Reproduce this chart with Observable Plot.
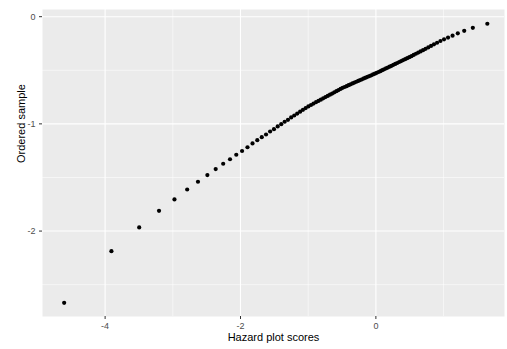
<!DOCTYPE html>
<html>
<head>
<meta charset="utf-8">
<script src="https://cdn.jsdelivr.net/npm/d3@7"></script>
<script src="https://cdn.jsdelivr.net/npm/@observablehq/plot@0.6"></script>
<style>
  html, body { margin: 0; padding: 0; background: #ffffff; }
  #chart svg { display: block; }
</style>
</head>
<body>
<div id="chart"></div>
<script>
// Hazard plot scores (x) and ordered sample (y)
const hazardScores = [-4.6052,-3.9070,-3.4964,-3.2036,-2.9755,-2.7878,-2.6284,-2.4895,-2.3665,-2.2557,
-2.1549,-2.0624,-1.9768,-1.8970,-1.8224,-1.7522,-1.6858,-1.6228,-1.5628,-1.5056,
-1.4508,-1.3982,-1.3476,-1.2988,-1.2517,-1.2062,-1.1620,-1.1191,-1.0775,-1.0370,
-0.9975,-0.9589,-0.9213,-0.8845,-0.8484,-0.8131,-0.7785,-0.7445,-0.7111,-0.6783,
-0.6460,-0.6142,-0.5828,-0.5519,-0.5214,-0.4912,-0.4614,-0.4319,-0.4027,-0.3738,
-0.3452,-0.3167,-0.2885,-0.2605,-0.2327,-0.2050,-0.1775,-0.1501,-0.1228,-0.0956,
-0.0685,-0.0414,-0.0143,0.0128,0.0398,0.0669,0.0940,0.1212,0.1485,0.1760,
0.2035,0.2313,0.2592,0.2874,0.3159,0.3446,0.3737,0.4032,0.4331,0.4635,
0.4945,0.5261,0.5584,0.5915,0.6255,0.6606,0.6968,0.7344,0.7736,0.8147,
0.8580,0.9041,0.9534,1.0070,1.0661,1.1327,1.2102,1.3049,1.4321,1.6463];

const orderedSample = [-2.669,-2.188,-1.966,-1.811,-1.705,-1.612,-1.540,-1.478,-1.422,-1.372,
-1.330,-1.288,-1.253,-1.218,-1.182,-1.152,-1.124,-1.099,-1.071,-1.049,
-1.024,-1.003,-0.980,-0.962,-0.940,-0.922,-0.904,-0.886,-0.869,-0.853,
-0.837,-0.824,-0.811,-0.798,-0.786,-0.774,-0.762,-0.750,-0.739,-0.728,
-0.717,-0.706,-0.695,-0.685,-0.674,-0.664,-0.656,-0.648,-0.639,-0.631,
-0.623,-0.615,-0.607,-0.599,-0.591,-0.584,-0.576,-0.569,-0.561,-0.554,
-0.547,-0.539,-0.532,-0.524,-0.516,-0.508,-0.499,-0.491,-0.483,-0.475,
-0.466,-0.458,-0.449,-0.441,-0.432,-0.423,-0.414,-0.405,-0.396,-0.387,
-0.378,-0.368,-0.357,-0.346,-0.335,-0.324,-0.312,-0.300,-0.287,-0.273,
-0.258,-0.243,-0.227,-0.211,-0.195,-0.177,-0.155,-0.132,-0.104,-0.066];

const xMajorTicks = [-4, -2, 0];
const xMinorTicks = [-3, -1, 1];
const yMajorTicks = [-2, -1, 0];
const yMinorTicks = [-2.5, -1.5, -0.5];
const xTitle = "Hazard plot scores";
const yTitle = "Ordered sample";

const points = hazardScores.map((x, i) => ({x, y: orderedSample[i]}));

const chart = Plot.plot({
  width: 507,
  height: 349,
  marginLeft: 42,
  marginRight: 3,
  marginTop: 9,
  marginBottom: 33,
  style: {fontFamily: "'Liberation Sans', Arial, sans-serif", background: "#ffffff"},
  x: {domain: [-4.925, 1.90], axis: null},
  y: {domain: [-2.797, 0.067], axis: null},
  marks: [
    Plot.frame({fill: "#EBEBEB", stroke: null}),
    Plot.gridX(xMinorTicks, {stroke: "#ffffff", strokeOpacity: 1, strokeWidth: 0.55}),
    Plot.gridY(yMinorTicks, {stroke: "#ffffff", strokeOpacity: 1, strokeWidth: 0.55}),
    Plot.gridX(xMajorTicks, {stroke: "#ffffff", strokeOpacity: 1, strokeWidth: 1.1}),
    Plot.gridY(yMajorTicks, {stroke: "#ffffff", strokeOpacity: 1, strokeWidth: 1.1}),
    Plot.axisX(xMajorTicks, {tickSize: 3, tickPadding: 3, stroke: "#333333", fill: "#4D4D4D", fontSize: 9, label: null, tickFormat: d => d < 0 ? "-" + Math.abs(d) : String(d)}),
    Plot.axisY(yMajorTicks, {tickSize: 3, tickPadding: 4, stroke: "#333333", fill: "#4D4D4D", fontSize: 9, label: null, tickFormat: d => d < 0 ? "-" + Math.abs(d) : String(d)}),
    Plot.dot(points, {x: "x", y: "y", r: 2.1, fill: "#000000", stroke: null}),
    Plot.text([xTitle], {frameAnchor: "bottom", dy: 24, fontSize: 11, fill: "#000000", text: d => d}),
    Plot.text([yTitle], {frameAnchor: "left", dx: -21, rotate: -90, fontSize: 11, fill: "#000000", text: d => d})
  ]
});
document.getElementById("chart").appendChild(chart);
</script>
</body>
</html>
